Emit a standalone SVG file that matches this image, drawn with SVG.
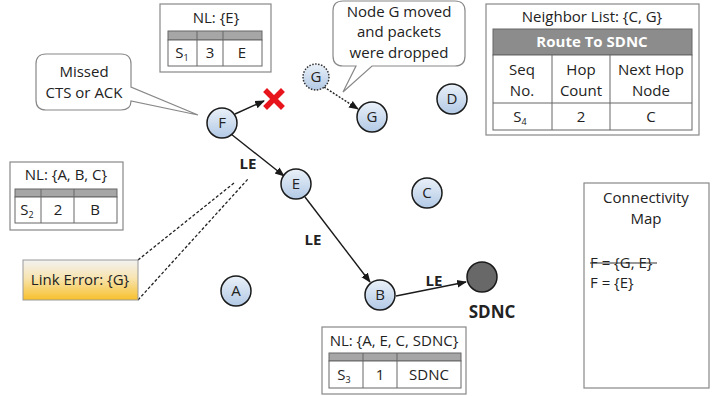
<svg xmlns="http://www.w3.org/2000/svg" width="714" height="396" viewBox="0 0 714 396">
<style>
text{font-family:"Open Sans","Liberation Sans",sans-serif;font-size:15px;fill:#222}
.c{text-anchor:middle}
.b{font-weight:bold}
.box{fill:#fff;stroke:#888;stroke-width:1.2}
.tb{fill:#fff;stroke:#666;stroke-width:1}
.hd{fill:#a6a6a6;stroke:#666;stroke-width:1}
.nd{fill:url(#ng);stroke:#1a1a1a;stroke-width:1.5}
.ln{stroke:#1a1a1a;stroke-width:1.4;fill:none}
.ds{stroke:#222;stroke-width:1.3;stroke-dasharray:3,2;fill:none}
.co{fill:#fff;stroke:#888;stroke-width:1.2}
</style>
<defs>
<linearGradient id="ng" x1="0" y1="0" x2="0" y2="1"><stop offset="0" stop-color="#eaf1f9"/><stop offset="1" stop-color="#b2c9e5"/></linearGradient>
<linearGradient id="lg" x1="0" y1="0" x2="0" y2="1"><stop offset="0" stop-color="#f2f2f2"/><stop offset="0.45" stop-color="#f7e4b0"/><stop offset="1" stop-color="#f8c02a"/></linearGradient>
<marker id="ar" viewBox="0 0 10 10" refX="9" refY="5" markerWidth="7" markerHeight="7" orient="auto"><path d="M0,1 L10,5 L0,9 z" fill="#1a1a1a"/></marker>
</defs>

<g id="connectors">
<line class="ln" x1="235" y1="114" x2="264" y2="101" marker-end="url(#ar)"/>
<line class="ln" x1="231" y1="134" x2="284" y2="176" marker-end="url(#ar)"/>
<line class="ln" x1="305" y1="197" x2="370" y2="282" marker-end="url(#ar)"/>
<line class="ln" x1="396" y1="296" x2="466" y2="282" marker-end="url(#ar)"/>
<line x1="324" y1="87" x2="358" y2="109" stroke="#222" stroke-width="1.4" stroke-dasharray="2,1.5" marker-end="url(#ar)"/>
<line class="ds" x1="138" y1="260" x2="234" y2="183"/>
<line class="ds" x1="138" y1="300" x2="248" y2="179"/>
<text class="b" x="248" y="169" text-anchor="middle">LE</text>
<text class="b" x="313" y="245" text-anchor="middle">LE</text>
<text class="b" x="434" y="286" text-anchor="middle">LE</text>
</g>

<g id="x-mark" transform="translate(274,99)">
<path d="M-7,-7 L7,7 M7,-7 L-7,7" stroke="#e8141c" stroke-width="5.5" stroke-linecap="square"/>
</g>

<g id="callout-missed">
<path class="co" d="M46,54 H121 Q131,54 131,64 V87 L198,115 L131,101 Q131,110 121,110 H46 Q36,110 36,100 V64 Q36,54 46,54 z"/>
<text class="c" x="84" y="77">Missed</text>
<text class="c" x="84" y="98">CTS or ACK</text>
</g>

<g id="callout-g">
<path class="co" d="M343,1 H455 Q465,1 465,11 V56 Q465,66 455,66 H372 L343,92 L356,66 H343 Q333,66 333,56 V11 Q333,1 343,1 z"/>
<text class="c" x="399" y="17">Node G moved</text>
<text class="c" x="399" y="37">and packets</text>
<text class="c" x="399" y="58">were dropped</text>
</g>

<g id="nl-f">
<rect class="box" x="160" y="4" width="111" height="68"/>
<text class="c" x="216" y="23">NL: {E}</text>
<rect class="hd" x="168" y="31" width="94" height="9"/>
<rect class="tb" x="168" y="40" width="94" height="26"/>
<line x1="197" y1="31" x2="197" y2="66" stroke="#666"/>
<line x1="223" y1="31" x2="223" y2="66" stroke="#666"/>
<text class="c" x="182" y="58">S<tspan font-size="9" dy="3">1</tspan></text>
<text class="c" x="210" y="58">3</text>
<text class="c" x="242" y="58">E</text>
</g>

<g id="nl-d">
<rect class="box" x="486" y="4" width="213" height="131"/>
<text class="c" x="592" y="22">Neighbor List: {C, G}</text>
<rect x="493" y="29" width="199" height="26" fill="#8c8c8c" stroke="#666"/>
<text class="c b" x="592" y="47" style="fill:#fff">Route To SDNC</text>
<rect class="tb" x="493" y="55" width="199" height="75"/>
<line x1="493" y1="103" x2="692" y2="103" stroke="#666"/>
<line x1="552" y1="55" x2="552" y2="130" stroke="#666"/>
<line x1="610" y1="55" x2="610" y2="130" stroke="#666"/>
<text class="c" x="522" y="75">Seq</text>
<text class="c" x="522" y="96">No.</text>
<text class="c" x="581" y="75">Hop</text>
<text class="c" x="581" y="96">Count</text>
<text class="c" x="651" y="75">Next Hop</text>
<text class="c" x="651" y="96">Node</text>
<text class="c" x="520" y="122">S<tspan font-size="9" dy="3">4</tspan></text>
<text class="c" x="581" y="122">2</text>
<text class="c" x="651" y="122">C</text>
</g>

<g id="nl-e">
<rect class="box" x="10" y="162" width="113" height="68"/>
<text class="c" x="66" y="180">NL: {A, B, C}</text>
<rect class="hd" x="15" y="189" width="102" height="8"/>
<rect class="tb" x="15" y="197" width="102" height="26"/>
<line x1="41" y1="189" x2="41" y2="223" stroke="#666"/>
<line x1="74" y1="189" x2="74" y2="223" stroke="#666"/>
<text class="c" x="27" y="215">S<tspan font-size="9" dy="3">2</tspan></text>
<text class="c" x="58" y="215">2</text>
<text class="c" x="95" y="215">B</text>
</g>

<g id="link-error">
<rect x="23" y="260" width="115" height="40" fill="url(#lg)" stroke="#999"/>
<text class="c" x="80" y="285">Link Error: {G}</text>
</g>

<g id="nl-b">
<rect class="box" x="322" y="327" width="144" height="67"/>
<text class="c" x="394" y="346">NL: {A, E, C, SDNC}</text>
<rect class="hd" x="329" y="353" width="132" height="8"/>
<rect class="tb" x="329" y="361" width="132" height="27"/>
<line x1="363" y1="353" x2="363" y2="388" stroke="#666"/>
<line x1="397" y1="353" x2="397" y2="388" stroke="#666"/>
<text class="c" x="344" y="380">S<tspan font-size="9" dy="3">3</tspan></text>
<text class="c" x="380" y="380">1</text>
<text class="c" x="429" y="380">SDNC</text>
</g>

<g id="conn-map">
<rect class="box" x="584" y="183" width="125" height="205"/>
<text class="c" x="646" y="203">Connectivity</text>
<text class="c" x="646" y="224">Map</text>
<text x="590" y="268">F = {G, E}</text>
<line x1="590" y1="263" x2="657" y2="263" stroke="#333" stroke-width="1.2"/>
<text x="590" y="288">F = {E}</text>
</g>

<g id="node-F"><circle class="nd" cx="222" cy="123" r="15"/><text class="c" x="222" y="128">F</text></g>
<g id="node-G-old"><circle cx="316" cy="77" r="13" fill="url(#ng)" stroke="#333" stroke-width="1.5" stroke-dasharray="1.5,1.5"/><text class="c" x="316" y="82">G</text></g>
<g id="node-G"><circle class="nd" cx="372" cy="117" r="15"/><text class="c" x="372" y="122">G</text></g>
<g id="node-D"><circle class="nd" cx="452" cy="99" r="15"/><text class="c" x="452" y="104">D</text></g>
<g id="node-E"><circle class="nd" cx="296" cy="184" r="15"/><text class="c" x="296" y="189">E</text></g>
<g id="node-C"><circle class="nd" cx="427" cy="193" r="15"/><text class="c" x="427" y="198">C</text></g>
<g id="node-A"><circle class="nd" cx="236" cy="291" r="15"/><text class="c" x="236" y="296">A</text></g>
<g id="node-B"><circle class="nd" cx="380" cy="295" r="15"/><text class="c" x="380" y="300">B</text></g>
<g id="node-SDNC"><circle cx="482" cy="277" r="15" fill="#686868" stroke="#1a1a1a" stroke-width="1.5"/><text class="c b" x="492" y="318" style="font-size:17px">SDNC</text></g>
</svg>
